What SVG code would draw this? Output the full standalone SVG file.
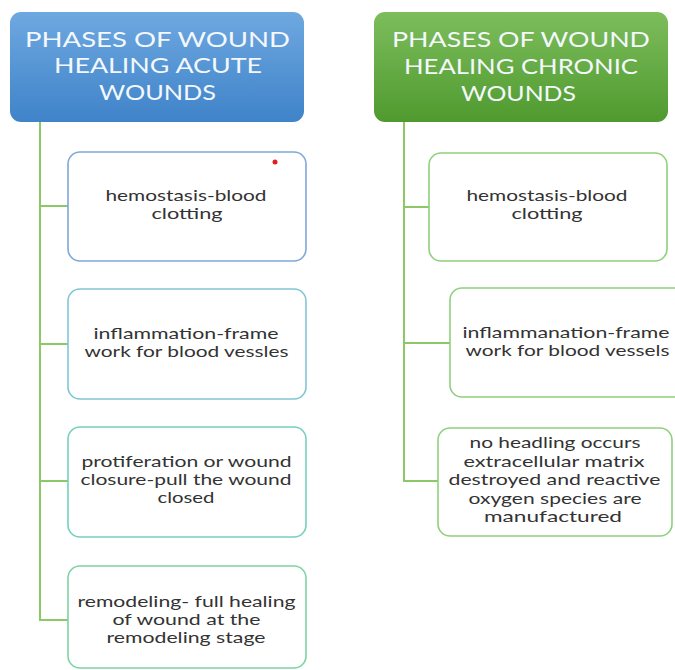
<svg xmlns="http://www.w3.org/2000/svg" width="675" height="670" viewBox="0 0 675 670">
<defs>
<linearGradient id="gBlue" x1="0" y1="0" x2="0" y2="1">
<stop offset="0" stop-color="#6ea8e0"/>
<stop offset="1" stop-color="#3f83c9"/>
</linearGradient>
<linearGradient id="gGreen" x1="0" y1="0" x2="0" y2="1">
<stop offset="0" stop-color="#7dbd5c"/>
<stop offset="1" stop-color="#4f9a2f"/>
</linearGradient>
</defs>
<style>
text{text-anchor:middle}
.hd text{font-family:Lato,"Open Sans",sans-serif;font-size:21.5px;fill:#f4f8fc}
.bx rect{fill:#ffffff;stroke-width:1.6}
.bx text{font-family:Lato,"Open Sans",sans-serif;font-size:15px;fill:#333333}
.con line{stroke:#8cc866;stroke-width:2;fill:none}
</style>
<rect width="675" height="670" fill="#ffffff"/>
<g class="con" id="connectors">
<line x1="40" y1="122" x2="40" y2="621"/>
<line x1="39" y1="206" x2="68" y2="206"/>
<line x1="39" y1="344" x2="68" y2="344"/>
<line x1="39" y1="481" x2="68" y2="481"/>
<line x1="39" y1="620" x2="68" y2="620"/>
<line x1="404" y1="122" x2="404" y2="482"/>
<line x1="403" y1="207" x2="429" y2="207"/>
<line x1="403" y1="343" x2="450" y2="343"/>
<line x1="403" y1="481" x2="438" y2="481"/>
</g>
<g class="hd" id="header-acute">
<rect x="10" y="12" width="294" height="110" rx="11" fill="url(#gBlue)"/>
<text x="157.5" y="47" textLength="265" lengthAdjust="spacingAndGlyphs">PHASES OF WOUND</text>
<text x="158" y="73" textLength="208" lengthAdjust="spacingAndGlyphs">HEALING ACUTE</text>
<text x="157.5" y="100" textLength="117" lengthAdjust="spacingAndGlyphs">WOUNDS</text>
</g>
<g class="hd" id="header-chronic">
<rect x="374" y="12" width="294" height="110" rx="11" fill="url(#gGreen)"/>
<text x="521" y="47" textLength="258" lengthAdjust="spacingAndGlyphs">PHASES OF WOUND</text>
<text x="521" y="74" textLength="234" lengthAdjust="spacingAndGlyphs">HEALING CHRONIC</text>
<text x="518.5" y="101" textLength="115" lengthAdjust="spacingAndGlyphs">WOUNDS</text>
</g>
<g class="bx" id="acute-hemostasis">
<rect x="68" y="152" width="238" height="109" rx="12" stroke="#7ea8da"/>
<circle cx="275" cy="162" r="2.5" fill="#e02020"/>
<text x="186" y="201" textLength="161" lengthAdjust="spacingAndGlyphs">hemostasis-blood</text>
<text x="187" y="219" textLength="71" lengthAdjust="spacingAndGlyphs">clotting</text>
</g>
<g class="bx" id="acute-inflammation">
<rect x="68" y="289" width="238" height="110" rx="12" stroke="#80c6d6"/>
<text x="186" y="339" textLength="185" lengthAdjust="spacingAndGlyphs">inflammation-frame</text>
<text x="186.5" y="357" textLength="204" lengthAdjust="spacingAndGlyphs">work for blood vessles</text>
</g>
<g class="bx" id="acute-proliferation">
<rect x="68" y="427" width="238" height="110" rx="12" stroke="#76d0bc"/>
<text x="186.5" y="467" textLength="210" lengthAdjust="spacingAndGlyphs">protiferation or wound</text>
<text x="186" y="485" textLength="211" lengthAdjust="spacingAndGlyphs">closure-pull the wound</text>
<text x="186" y="503" textLength="57" lengthAdjust="spacingAndGlyphs">closed</text>
</g>
<g class="bx" id="acute-remodeling">
<rect x="68" y="566" width="238" height="102" rx="12" stroke="#7cd4a4"/>
<text x="186.5" y="607" textLength="218" lengthAdjust="spacingAndGlyphs">remodeling- full healing</text>
<text x="186.5" y="625" textLength="148" lengthAdjust="spacingAndGlyphs">of wound at the</text>
<text x="186" y="643" textLength="159" lengthAdjust="spacingAndGlyphs">remodeling stage</text>
</g>
<g class="bx" id="chronic-hemostasis">
<rect x="429" y="153" width="238" height="108" rx="12" stroke="#8fd07e"/>
<text x="547" y="201" textLength="161" lengthAdjust="spacingAndGlyphs">hemostasis-blood</text>
<text x="547" y="219" textLength="71" lengthAdjust="spacingAndGlyphs">clotting</text>
</g>
<g class="bx" id="chronic-inflammation">
<rect x="450" y="288" width="240" height="109" rx="12" stroke="#8fd07e"/>
<text x="566" y="338" textLength="207" lengthAdjust="spacingAndGlyphs">inflammanation-frame</text>
<text x="567.5" y="356" textLength="204" lengthAdjust="spacingAndGlyphs">work for blood vessels</text>
</g>
<g class="bx" id="chronic-no-healing">
<rect x="438" y="428" width="234" height="108" rx="12" stroke="#8fd07e"/>
<text x="555" y="448" textLength="171" lengthAdjust="spacingAndGlyphs">no headling occurs</text>
<text x="554" y="466.5" textLength="181" lengthAdjust="spacingAndGlyphs">extracellular matrix</text>
<text x="554.5" y="485" textLength="212" lengthAdjust="spacingAndGlyphs">destroyed and reactive</text>
<text x="555" y="503.5" textLength="173" lengthAdjust="spacingAndGlyphs">oxygen species are</text>
<text x="553" y="522" textLength="138" lengthAdjust="spacingAndGlyphs">manufactured</text>
</g>
</svg>
